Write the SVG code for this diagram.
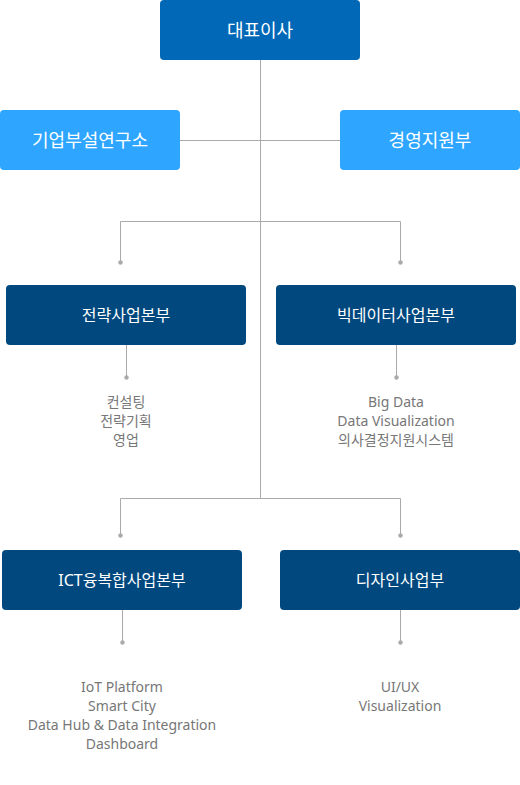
<svg xmlns="http://www.w3.org/2000/svg" width="520" height="785" viewBox="0 0 520 785">
<style>
.box text{font-family:"Noto Sans","Noto Sans CJK KR",sans-serif;font-size:16px;fill:#fff;text-anchor:middle}
.box .big{font-size:18px}
.sub{font-family:"Noto Sans","Noto Sans CJK KR",sans-serif;font-size:14px;fill:#777;text-anchor:middle}
.ln{stroke:#aaa;stroke-width:1;fill:none}
.dot{fill:#aaa}
.top{fill:#0068b7}
.lt{fill:#2ea6ff}
.dk{fill:#00487e}
</style>
<rect width="520" height="785" fill="#fff"/>
<g id="connectors">
<path class="ln" d="M260.5 60V498.5M180 140.5H340M120.5 221.5H400.5M120.5 221.5V262M400.5 221.5V262M126.5 345V377M396.5 345V377M120.5 498.5H400.5M120.5 498.5V535M400.5 498.5V535M122.5 610V642M400.5 610V642"/>
<circle class="dot" cx="120.5" cy="262.5" r="2.2"/>
<circle class="dot" cx="400.5" cy="262.5" r="2.2"/>
<circle class="dot" cx="126.5" cy="377.5" r="2.2"/>
<circle class="dot" cx="396.5" cy="377.5" r="2.2"/>
<circle class="dot" cx="120.5" cy="535.5" r="2.2"/>
<circle class="dot" cx="400.5" cy="535.5" r="2.2"/>
<circle class="dot" cx="122.5" cy="642.5" r="2.2"/>
<circle class="dot" cx="400.5" cy="642.5" r="2.2"/>
</g>
<g id="ceo" class="box"><rect class="top" x="160" y="0" width="200" height="60" rx="4"/><text class="big" x="260" y="36.5">대표이사</text></g>
<g id="lab" class="box"><rect class="lt" x="0" y="110" width="180" height="60" rx="4"/><text class="big" x="90" y="146.5">기업부설연구소</text></g>
<g id="mgmt" class="box"><rect class="lt" x="340" y="110" width="180" height="60" rx="4"/><text class="big" x="430" y="146.5">경영지원부</text></g>
<g id="strategy" class="box"><rect class="dk" x="6" y="285" width="240" height="60" rx="4"/><text x="126" y="320.5">전략사업본부</text></g>
<g id="bigdata" class="box"><rect class="dk" x="276" y="285" width="240" height="60" rx="4"/><text x="396" y="320.5">빅데이터사업본부</text></g>
<g id="ict" class="box"><rect class="dk" x="2" y="550" width="240" height="60" rx="4"/><text x="122" y="585.5">ICT융복합사업본부</text></g>
<g id="design" class="box"><rect class="dk" x="280" y="550" width="240" height="60" rx="4"/><text x="400" y="585.5">디자인사업부</text></g>
<g id="strategy-items"><text class="sub" x="126" y="407">컨설팅</text><text class="sub" x="126" y="426">전략기획</text><text class="sub" x="126" y="445">영업</text></g>
<g id="bigdata-items"><text class="sub" x="396" y="407">Big Data</text><text class="sub" x="396" y="426">Data Visualization</text><text class="sub" x="396" y="445">의사결정지원시스템</text></g>
<g id="ict-items"><text class="sub" x="122" y="692">IoT Platform</text><text class="sub" x="122" y="711">Smart City</text><text class="sub" x="122" y="730">Data Hub &amp; Data Integration</text><text class="sub" x="122" y="749">Dashboard</text></g>
<g id="design-items"><text class="sub" x="400" y="692">UI/UX</text><text class="sub" x="400" y="711">Visualization</text></g>
</svg>
